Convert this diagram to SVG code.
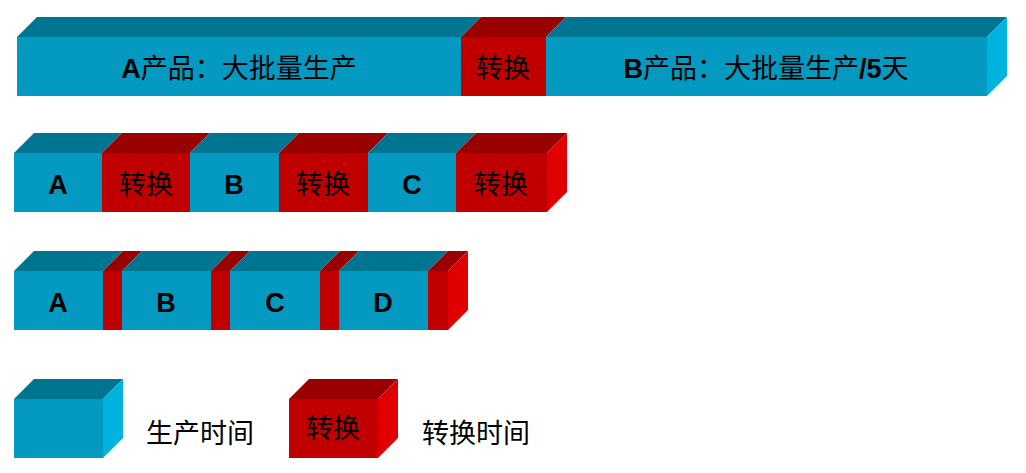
<svg xmlns="http://www.w3.org/2000/svg" width="1026" height="473" viewBox="0 0 1026 473">
<style>
.bf{fill:#0399c0}.bt{fill:#007592}.bs{fill:#00b2de}
.rf{fill:#c00000}.rt{fill:#990000}.rs{fill:#e00000}
.t{font-family:"Liberation Sans","Noto Sans CJK SC",sans-serif;font-size:27px;fill:#000;text-anchor:middle}
.b{font-weight:bold}
</style>
<rect width="1026" height="473" fill="#fff"/>
<g id="row1">
<polygon class="bt" points="17,37 37,17 481,17 461,37"/>
<polygon class="rt" points="461,37 481,17 566,17 546,37"/>
<polygon class="bt" points="546,37 566,17 1007,17 987,37"/>
<rect class="bf" x="17" y="37" width="444" height="59"/>
<rect class="rf" x="461" y="37" width="85" height="59"/>
<rect class="bf" x="546" y="37" width="441" height="59"/>
<polygon class="bs" points="987,37 1007,17 1007,76 987,96"/>
<text class="t" x="239" y="78"><tspan class="b">A</tspan>产品：大批量生产</text>
<text class="t" x="503" y="78">转换</text>
<text class="t" x="766" y="78"><tspan class="b">B</tspan>产品：大批量生产<tspan class="b">/5</tspan>天</text>
</g>
<g id="row2">
<polygon class="bt" points="14,153 34,133 122,133 102,153"/>
<polygon class="rt" points="102,153 122,133 210,133 190,153"/>
<polygon class="bt" points="190,153 210,133 299,133 279,153"/>
<polygon class="rt" points="279,153 299,133 388,133 368,153"/>
<polygon class="bt" points="368,153 388,133 476,133 456,153"/>
<polygon class="rt" points="456,153 476,133 567,133 547,153"/>
<rect class="bf" x="14" y="153" width="88" height="59"/>
<rect class="rf" x="102" y="153" width="88" height="59"/>
<rect class="bf" x="190" y="153" width="89" height="59"/>
<rect class="rf" x="279" y="153" width="89" height="59"/>
<rect class="bf" x="368" y="153" width="88" height="59"/>
<rect class="rf" x="456" y="153" width="91" height="59"/>
<polygon class="rs" points="547,153 567,133 567,192 547,212"/>
<text class="t b" x="58" y="194">A</text>
<text class="t" x="146" y="194">转换</text>
<text class="t b" x="234" y="194">B</text>
<text class="t" x="323" y="194">转换</text>
<text class="t b" x="412" y="194">C</text>
<text class="t" x="501" y="194">转换</text>
</g>
<g id="row3">
<polygon class="bt" points="14,271 34,251 123,251 103,271"/>
<polygon class="rt" points="103,271 123,251 142,251 122,271"/>
<polygon class="bt" points="122,271 142,251 231,251 211,271"/>
<polygon class="rt" points="211,271 231,251 250,251 230,271"/>
<polygon class="bt" points="230,271 250,251 340,251 320,271"/>
<polygon class="rt" points="320,271 340,251 359,251 339,271"/>
<polygon class="bt" points="339,271 359,251 448,251 428,271"/>
<polygon class="rt" points="428,271 448,251 468,251 448,271"/>
<rect class="bf" x="14" y="271" width="89" height="59"/>
<rect class="rf" x="103" y="271" width="19" height="59"/>
<rect class="bf" x="122" y="271" width="89" height="59"/>
<rect class="rf" x="211" y="271" width="19" height="59"/>
<rect class="bf" x="230" y="271" width="90" height="59"/>
<rect class="rf" x="320" y="271" width="19" height="59"/>
<rect class="bf" x="339" y="271" width="89" height="59"/>
<rect class="rf" x="428" y="271" width="20" height="59"/>
<polygon class="rs" points="448,271 468,251 468,310 448,330"/>
<text class="t b" x="58" y="312">A</text>
<text class="t b" x="166" y="312">B</text>
<text class="t b" x="275" y="312">C</text>
<text class="t b" x="383" y="312">D</text>
</g>
<g id="legend-prod">
<polygon class="bt" points="14,399 34,379 123,379 103,399"/>
<rect class="bf" x="14" y="399" width="89" height="59"/>
<polygon class="bs" points="103,399 123,379 123,438 103,458"/>
<text class="t" x="200" y="443">生产时间</text>
</g>
<g id="legend-change">
<polygon class="rt" points="289,399 309,379 398,379 378,399"/>
<rect class="rf" x="289" y="399" width="89" height="59"/>
<polygon class="rs" points="378,399 398,379 398,438 378,458"/>
<text class="t" x="333" y="438">转换</text>
<text class="t" x="476" y="443">转换时间</text>
</g>
</svg>
